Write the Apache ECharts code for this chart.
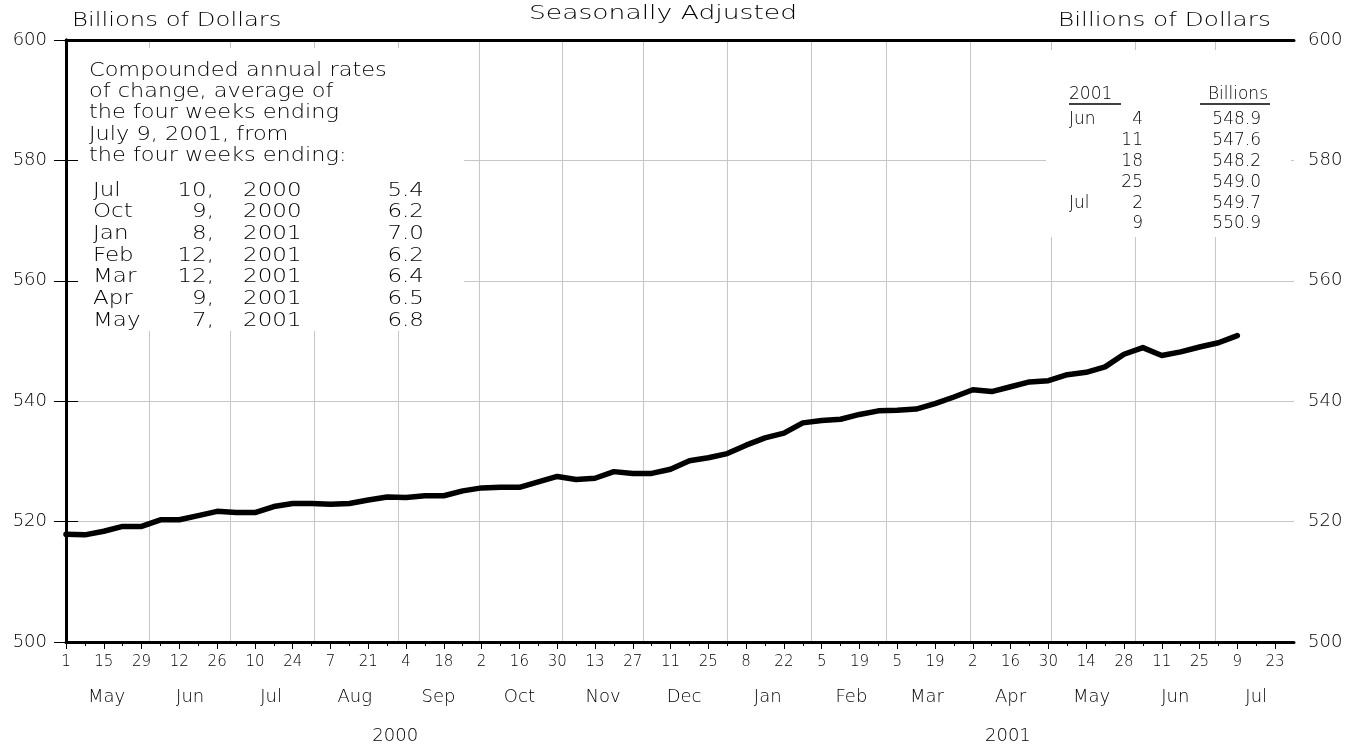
<!DOCTYPE html>
<html>
<head>
<meta charset="utf-8">
<title>Seasonally Adjusted</title>
<script src="https://cdn.jsdelivr.net/npm/echarts@6/dist/echarts.min.js"></script>
<style>
  html, body { margin: 0; padding: 0; background: #fff; }
  #chart { width: 1350px; height: 745px; }
</style>
</head>
<body>
<div id="chart"></div>
<script>
// weekly observations, week ending dates
var weeks = [
  '2000-05-01', '2000-05-08', '2000-05-15', '2000-05-22', '2000-05-29',
  '2000-06-05', '2000-06-12', '2000-06-19', '2000-06-26',
  '2000-07-03', '2000-07-10', '2000-07-17', '2000-07-24', '2000-07-31',
  '2000-08-07', '2000-08-14', '2000-08-21', '2000-08-28',
  '2000-09-04', '2000-09-11', '2000-09-18', '2000-09-25',
  '2000-10-02', '2000-10-09', '2000-10-16', '2000-10-23', '2000-10-30',
  '2000-11-06', '2000-11-13', '2000-11-20', '2000-11-27',
  '2000-12-04', '2000-12-11', '2000-12-18', '2000-12-25',
  '2001-01-01', '2001-01-08', '2001-01-15', '2001-01-22', '2001-01-29',
  '2001-02-05', '2001-02-12', '2001-02-19', '2001-02-26',
  '2001-03-05', '2001-03-12', '2001-03-19', '2001-03-26',
  '2001-04-02', '2001-04-09', '2001-04-16', '2001-04-23', '2001-04-30',
  '2001-05-07', '2001-05-14', '2001-05-21', '2001-05-28',
  '2001-06-04', '2001-06-11', '2001-06-18', '2001-06-25',
  '2001-07-02', '2001-07-09'
]
var billions = [
  517.9, 517.8, 518.4, 519.2, 519.2,
  520.3, 520.3, 521.0, 521.7,
  521.5, 521.5, 522.5, 523.0, 523.0,
  522.9, 523.0, 523.6, 524.1,
  524.0, 524.3, 524.3, 525.1,
  525.6, 525.7, 525.7, 526.6, 527.5,
  527.0, 527.2, 528.3, 528.0,
  528.0, 528.7, 530.1, 530.6,
  531.3, 532.7, 533.9, 534.7, 536.4,
  536.8, 537.0, 537.8, 538.4,
  538.5, 538.7, 539.6, 540.7,
  541.9, 541.6, 542.4, 543.2, 543.4,
  544.4, 544.8, 545.7, 547.8,
  548.9, 547.6, 548.2, 549.0,
  549.7, 550.9
]
// axis extent and extra tick weeks past the last observation
var axisStart = '2000-05-01'
var axisEnd = '2001-07-30'
var extraWeeks = ['2001-07-16', '2001-07-23']
var monthStarts = [
  '2000-06-01', '2000-07-01', '2000-08-01', '2000-09-01', '2000-10-01', '2000-11-01', '2000-12-01',
  '2001-01-01', '2001-02-01', '2001-03-01', '2001-04-01', '2001-05-01', '2001-06-01', '2001-07-01'
]
var monthNames = ['Jan', 'Feb', 'Mar', 'Apr', 'May', 'Jun', 'Jul', 'Aug', 'Sep', 'Oct', 'Nov', 'Dec']
var monthLabelDays = [
  '2000-05-16', '2000-06-16', '2000-07-16', '2000-08-16', '2000-09-16', '2000-10-16', '2000-11-16', '2000-12-16',
  '2001-01-16', '2001-02-16', '2001-03-16', '2001-04-16', '2001-05-16', '2001-06-16', '2001-07-16'
]
var yearLabelDays = ['2000-08-31', '2001-04-15']
var yTicks = [500, 520, 540, 560, 580, 600]

// compounded annual rates box
var rateNote = [
  'Compounded annual rates',
  'of change, average of',
  'the four weeks ending',
  'July 9, 2001, from',
  'the four weeks ending:'
]
var rateMonths = ['Jul', 'Oct', 'Jan', 'Feb', 'Mar', 'Apr', 'May']
var rateDays = ['10,', '9,', '8,', '12,', '12,', '9,', '7,']
var rateYears = ['2000', '2000', '2001', '2001', '2001', '2001', '2001']
var rateValues = ['5.4', '6.2', '7.0', '6.2', '6.4', '6.5', '6.8']

// x axis is in days counted from axisStart
function parts(s) { return s.split('-').map(Number) }
var p0 = parts(axisStart)
function day(s) {
  var p = parts(s)
  return Math.round((Date.UTC(p[0], p[1] - 1, p[2]) - Date.UTC(p0[0], p0[1] - 1, p0[2])) / 86400000)
}
function toDate(v) { return new Date(Date.UTC(p0[0], p0[1] - 1, p0[2] + Math.round(v))) }

var FONT = '"DejaVu Sans"'
var WEIGHT = 200
var GRID = '#c6c6c6'

var allWeeks = weeks.concat(extraWeeks).map(day)
var labelWeeks = allWeeks.filter(function(v, i) { return i % 2 === 0 })
var seriesData = weeks.map(function(d, i) { return [day(d), billions[i]] })

function text(x, y, s, size, align, sx) {
  return {
    type: 'text', x: x, y: y, z: 10, scaleX: sx || 1,
    style: {
      text: s, font: WEIGHT + ' ' + size + 'px ' + FONT, fill: '#000',
      textAlign: align || 'left', textVerticalAlign: 'middle'
    }
  }
}

var graphics = [
  // white panels that hide the grid behind the notes
  { type: 'rect', z: 9, shape: { x: 78, y: 48, width: 386, height: 283 }, style: { fill: '#fff' } },
  { type: 'rect', z: 9, shape: { x: 1046, y: 50, width: 245, height: 187 }, style: { fill: '#fff' } },
  text(72, 21, 'Billions of Dollars', 19, 'left', 1.28),
  text(663, 14, 'Seasonally Adjusted', 20, 'center', 1.33),
  text(1058, 21, 'Billions of Dollars', 19, 'left', 1.3)
]
rateNote.forEach(function(s, i) {
  graphics.push(text(89, 71 + i * 21.2, s, 19, 'left', 1.18))
})
rateMonths.forEach(function(m, i) {
  var y = 190.5 + i * 21.67
  graphics.push(text(93, y, m, 20, 'left', 1.15))
  graphics.push(text(214, y, rateDays[i], 20, 'right', 1.15))
  graphics.push(text(243, y, rateYears[i], 20, 'left', 1.15))
  graphics.push(text(424, y, rateValues[i], 20, 'right', 1.15))
})

// latest weeks table, built from the series
var recent = weeks.slice(-6)
graphics.push(text(1069, 95, recent[0].slice(0, 4), 17, 'left'))
graphics.push(text(1268, 95, 'Billions', 17, 'right'))
graphics.push({ type: 'line', z: 10, shape: { x1: 1069, y1: 104, x2: 1121, y2: 104 }, style: { stroke: '#000', lineWidth: 1.5 } })
graphics.push({ type: 'line', z: 10, shape: { x1: 1200, y1: 104, x2: 1270, y2: 104 }, style: { stroke: '#000', lineWidth: 1.5 } })
recent.forEach(function(d, i) {
  var y = 120 + i * 20.8
  var p = parts(d)
  var prev = i > 0 ? parts(recent[i - 1])[1] : 0
  if (p[1] !== prev) graphics.push(text(1069, y, monthNames[p[1] - 1], 17, 'left'))
  graphics.push(text(1143, y, String(p[2]), 17, 'right'))
  graphics.push(text(1261, y, billions[billions.length - 6 + i].toFixed(1), 17, 'right'))
})

var chart = echarts.init(document.getElementById('chart'))

var baseX = { type: 'value', gridIndex: 0, min: 0, max: day(axisEnd) }
function xAxis(extra) { return Object.assign({}, baseX, extra) }
function label(extra) {
  return Object.assign({ color: '#000', fontFamily: FONT, fontWeight: WEIGHT }, extra)
}

chart.setOption({
  animation: false,
  backgroundColor: '#fff',
  grid: { left: 66, right: 56, top: 40, bottom: 103 },
  xAxis: [
    xAxis({
      position: 'bottom',
      axisLine: { onZero: false, lineStyle: { color: '#000', width: 3 } },
      axisTick: { customValues: allWeeks, length: 4, lineStyle: { color: '#000', width: 1 } },
      axisLabel: { show: false },
      splitLine: { show: false }
    }),
    xAxis({
      position: 'bottom',
      axisLine: { show: false, onZero: false },
      axisTick: { customValues: labelWeeks, length: 7, lineStyle: { color: '#000', width: 1 } },
      axisLabel: label({
        customValues: labelWeeks, margin: 13, fontSize: 15,
        formatter: function(v) { return String(toDate(v).getUTCDate()) }
      }),
      splitLine: { show: false }
    }),
    xAxis({
      position: 'bottom',
      axisLine: { show: false, onZero: false },
      axisTick: { show: false, customValues: monthStarts.map(day) },
      axisLabel: label({
        customValues: monthLabelDays.map(day), margin: 46, fontSize: 18,
        formatter: function(v) { return monthNames[toDate(v).getUTCMonth()] }
      }),
      splitLine: { show: true, lineStyle: { color: GRID, width: 1 } }
    }),
    xAxis({
      position: 'bottom',
      axisLine: { show: false, onZero: false },
      axisTick: { show: false },
      axisLabel: label({
        customValues: yearLabelDays.map(day), margin: 85, fontSize: 18,
        formatter: function(v) { return String(toDate(v).getUTCFullYear()) }
      }),
      splitLine: { show: false }
    }),
    xAxis({
      position: 'top',
      axisLine: { onZero: false, lineStyle: { color: '#000', width: 3 } },
      axisTick: { show: false },
      axisLabel: { show: false },
      splitLine: { show: false }
    })
  ],
  yAxis: [
    {
      type: 'value', position: 'left', min: 500, max: 600, interval: 20, z: 4,
      axisLine: { show: true, lineStyle: { color: '#000', width: 3 } },
      axisTick: { show: true, length: 12, lineStyle: { color: '#000', width: 1 } },
      axisLabel: label({ margin: 19, fontSize: 18 }),
      splitLine: { show: false }
    },
    {
      type: 'value', position: 'right', min: 500, max: 600, interval: 20, z: 4,
      axisLine: { show: true, lineStyle: { color: '#000', width: 3 } },
      axisTick: { show: true, length: 12, lineStyle: { color: '#000', width: 1 } },
      axisLabel: label({ margin: 14, fontSize: 18 }),
      splitLine: { show: false }
    },
    {
      type: 'value', position: 'left', min: 500, max: 600,
      axisLine: { show: false },
      axisTick: { show: false, customValues: yTicks.slice(1, -1) },
      axisLabel: { show: false },
      splitLine: { show: true, lineStyle: { color: GRID, width: 1 } }
    }
  ],
  graphic: graphics,
  series: [
    {
      type: 'line',
      xAxisIndex: 0,
      yAxisIndex: 0,
      data: seriesData,
      symbol: 'none',
      z: 6,
      lineStyle: { color: '#000', width: 5.5, cap: 'round', join: 'round' }
    }
  ]
})
</script>
</body>
</html>
